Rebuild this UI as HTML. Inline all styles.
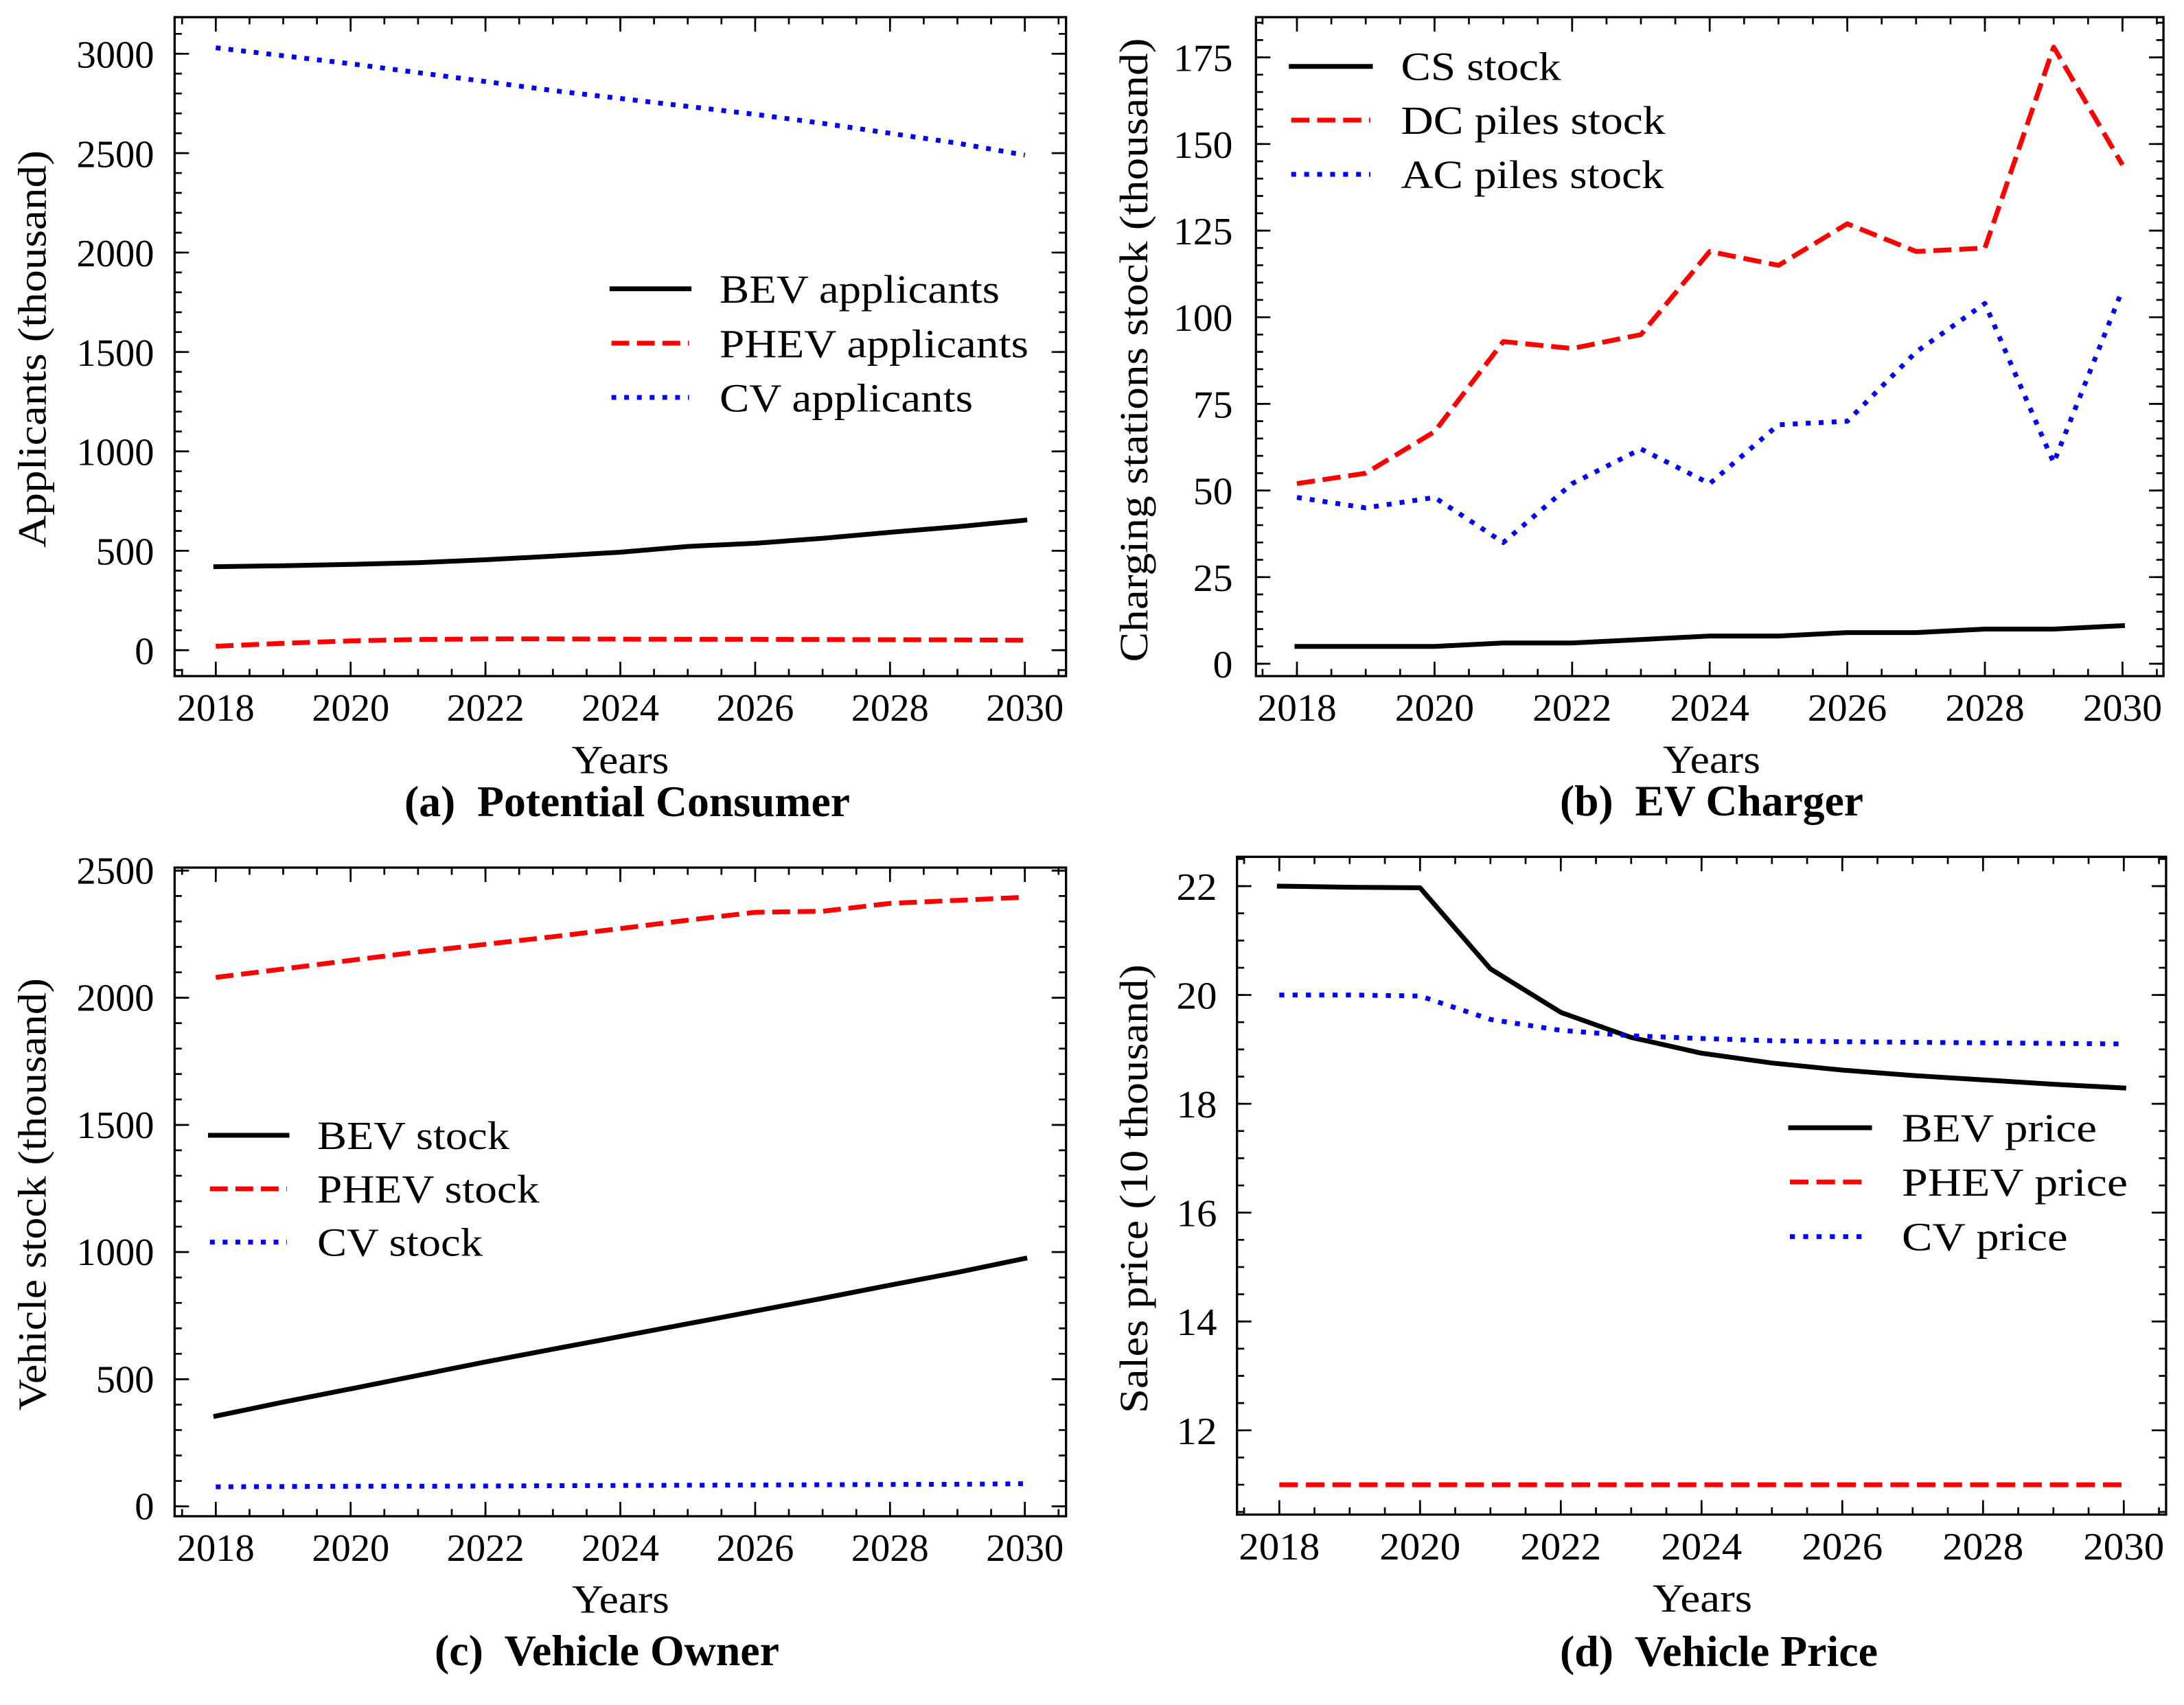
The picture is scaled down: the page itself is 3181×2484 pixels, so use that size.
<!DOCTYPE html>
<html>
<head>
<meta charset="utf-8">
<style>
html,body{margin:0;padding:0;background:#fff;}
svg{display:block;}
text{font-family:"Liberation Serif",serif;fill:#000;}
.t{font-size:56.5px;}
.l{font-size:58px;}
.cap{font-size:63px;font-weight:bold;white-space:pre;}
</style>
</head>
<body>
<svg width="3181" height="2484" viewBox="0 0 3181 2484" xmlns="http://www.w3.org/2000/svg">
<rect x="0" y="0" width="3181" height="2484" fill="#fff"/>

<!-- ================= PANEL A ================= -->
<g fill="none" stroke-linejoin="round">
  <polyline stroke="#000" stroke-width="7" stroke-linecap="square" points="314.3,825.6 412.5,824.2 510.7,822.2 608.9,819.8 707.1,815.5 805.3,810.3 903.5,804.5 1001.7,796.1 1099.9,791.5 1198.1,784.2 1296.3,775.5 1394.5,767.4 1492.7,757.9"/>
  <polyline stroke="#ff0000" stroke-width="7" stroke-dasharray="25.9 11.2" points="314.3,941.5 412.5,937.2 510.7,933.7 608.9,931.7 707.1,930.8 805.3,930.8 903.5,931.1 1001.7,931.4 1099.9,931.4 1198.1,931.7 1296.3,932.0 1394.5,932.2 1492.7,932.8"/>
  <polyline stroke="#0000ff" stroke-width="7" stroke-dasharray="7 11.55" points="314.3,69.6 412.5,81.2 510.7,92.8 608.9,105.8 707.1,118.8 805.3,131.9 903.5,143.5 1001.7,155.0 1099.9,166.6 1198.1,179.7 1296.3,194.2 1394.5,208.6 1492.7,226.0"/>
</g>
<g stroke="#000" fill="none">
  <rect x="254.3" y="25" width="1298.4" height="960" stroke-width="3.3"/>
  <line x1="263.85" y1="979.75" x2="1543.2" y2="979.75" stroke-width="10.5" stroke-dasharray="2.7 46.4"/>
  <line x1="263.85" y1="30.25" x2="1543.2" y2="30.25" stroke-width="10.5" stroke-dasharray="2.7 46.4"/>
  <line x1="312.95" y1="974.5" x2="1494.05" y2="974.5" stroke-width="21" stroke-dasharray="2.7 193.7"/>
  <line x1="312.95" y1="35.5" x2="1494.05" y2="35.5" stroke-width="21" stroke-dasharray="2.7 193.7"/>
  <line x1="259.55" y1="47.95" x2="259.55" y2="977.65" stroke-width="10.5" stroke-dasharray="2.7 26.267"/>
  <line x1="1547.45" y1="47.95" x2="1547.45" y2="977.65" stroke-width="10.5" stroke-dasharray="2.7 26.267"/>
  <line x1="264.8" y1="76.95" x2="264.8" y2="948.65" stroke-width="21" stroke-dasharray="2.7 142.13"/>
  <line x1="1542.2" y1="76.95" x2="1542.2" y2="948.65" stroke-width="21" stroke-dasharray="2.7 142.13"/>
</g>
<g class="t" text-anchor="end">
  <text x="224.5" y="967.3">0</text>
  <text x="224.5" y="822.5">500</text>
  <text x="224.5" y="677.7">1000</text>
  <text x="224.5" y="532.9">1500</text>
  <text x="224.5" y="388.1">2000</text>
  <text x="224.5" y="243.3">2500</text>
  <text x="224.5" y="98.3">3000</text>
</g>
<g class="t" text-anchor="middle">
  <text x="314.3" y="1050">2018</text>
  <text x="510.7" y="1050">2020</text>
  <text x="707.1" y="1050">2022</text>
  <text x="903.5" y="1050">2024</text>
  <text x="1099.9" y="1050">2026</text>
  <text x="1296.3" y="1050">2028</text>
  <text x="1492.7" y="1050">2030</text>
</g>
<text class="l" x="903.5" y="1126.5" text-anchor="middle" textLength="141.8" lengthAdjust="spacingAndGlyphs">Years</text>
<text class="l" transform="translate(66.7 508.5) rotate(-90)" text-anchor="middle" textLength="579" lengthAdjust="spacingAndGlyphs">Applicants (thousand)</text>
<text class="cap" x="589" y="1189" textLength="649" lengthAdjust="spacingAndGlyphs">(a)  Potential Consumer</text>
<!-- legend a -->
<g fill="none">
  <line x1="891.3" y1="420.7" x2="1003.6" y2="420.7" stroke="#000" stroke-width="7" stroke-linecap="square"/>
  <line x1="890.6" y1="500" x2="1003.6" y2="500" stroke="#ff0000" stroke-width="7" stroke-dasharray="25.9 11.2"/>
  <line x1="890.6" y1="579" x2="1003.6" y2="579" stroke="#0000ff" stroke-width="7" stroke-dasharray="7 11.55"/>
</g>
<g class="l">
  <text x="1048" y="441" textLength="408" lengthAdjust="spacingAndGlyphs">BEV applicants</text>
  <text x="1048" y="520.3" textLength="450" lengthAdjust="spacingAndGlyphs">PHEV applicants</text>
  <text x="1048" y="599.3" textLength="369" lengthAdjust="spacingAndGlyphs">CV applicants</text>
</g>

<!-- ================= PANEL B ================= -->
<g fill="none" stroke-linejoin="round">
  <polyline stroke="#000" stroke-width="7" stroke-linecap="square" points="1889,941.8 1989.2,941.8 2089.4,941.8 2189.6,936.7 2289.8,936.7 2390,931.7 2490.2,926.6 2590.4,926.6 2690.6,921.6 2790.8,921.6 2891,916.5 2991.2,916.5 3091.4,911.5"/>
  <polyline stroke="#ff0000" stroke-width="7" stroke-dasharray="26.4 11.4" points="1889,704.6 1989.2,689.4 2089.4,628.9 2189.6,497.6 2289.8,507.7 2390,487.5 2490.2,366.4 2590.4,386.6 2690.6,326.0 2790.8,366.4 2891,361.4 2991.2,68.6 3091.4,240.2"/>
  <polyline stroke="#0000ff" stroke-width="7" stroke-dasharray="7.1 11.8" points="1889,724.7 1989.2,739.9 2089.4,724.7 2189.6,790.4 2289.8,704.6 2390,654.1 2490.2,704.6 2590.4,618.8 2690.6,613.7 2790.8,512.8 2891,442.1 2991.2,674.3 3091.4,421.9"/>
</g>
<g stroke="#000" fill="none">
  <rect x="1829.3" y="25" width="1321.8" height="960" stroke-width="3.3"/>
  <line x1="1837.55" y1="979.75" x2="3142.75" y2="979.75" stroke-width="10.5" stroke-dasharray="2.7 47.4"/>
  <line x1="1837.55" y1="30.25" x2="3142.75" y2="30.25" stroke-width="10.5" stroke-dasharray="2.7 47.4"/>
  <line x1="1887.65" y1="974.5" x2="3092.75" y2="974.5" stroke-width="21" stroke-dasharray="2.7 197.7"/>
  <line x1="1887.65" y1="35.5" x2="3092.75" y2="35.5" stroke-width="21" stroke-dasharray="2.7 197.7"/>
  <line x1="1834.55" y1="31.75" x2="1834.55" y2="968.35" stroke-width="10.5" stroke-dasharray="2.7 22.54"/>
  <line x1="3145.85" y1="31.75" x2="3145.85" y2="968.35" stroke-width="10.5" stroke-dasharray="2.7 22.54"/>
  <line x1="1839.8" y1="82.25" x2="1839.8" y2="968.35" stroke-width="21" stroke-dasharray="2.7 123.5"/>
  <line x1="3140.6" y1="82.25" x2="3140.6" y2="968.35" stroke-width="21" stroke-dasharray="2.7 123.5"/>
</g>
<g class="t" text-anchor="end">
  <text x="1795.5" y="987" textLength="28.8" lengthAdjust="spacingAndGlyphs">0</text>
  <text x="1795.5" y="860.8" textLength="57.6" lengthAdjust="spacingAndGlyphs">25</text>
  <text x="1795.5" y="734.6" textLength="57.6" lengthAdjust="spacingAndGlyphs">50</text>
  <text x="1795.5" y="608.4" textLength="57.6" lengthAdjust="spacingAndGlyphs">75</text>
  <text x="1795.5" y="482.2" textLength="86.5" lengthAdjust="spacingAndGlyphs">100</text>
  <text x="1795.5" y="356" textLength="86.5" lengthAdjust="spacingAndGlyphs">125</text>
  <text x="1795.5" y="229.8" textLength="86.5" lengthAdjust="spacingAndGlyphs">150</text>
  <text x="1795.5" y="103.6" textLength="86.5" lengthAdjust="spacingAndGlyphs">175</text>
</g>
<g class="t" text-anchor="middle">
  <text x="1889" y="1050" textLength="115.3" lengthAdjust="spacingAndGlyphs">2018</text>
  <text x="2089.4" y="1050" textLength="115.3" lengthAdjust="spacingAndGlyphs">2020</text>
  <text x="2289.8" y="1050" textLength="115.3" lengthAdjust="spacingAndGlyphs">2022</text>
  <text x="2490.2" y="1050" textLength="115.3" lengthAdjust="spacingAndGlyphs">2024</text>
  <text x="2690.6" y="1050" textLength="115.3" lengthAdjust="spacingAndGlyphs">2026</text>
  <text x="2891" y="1050" textLength="115.3" lengthAdjust="spacingAndGlyphs">2028</text>
  <text x="3091.4" y="1050" textLength="115.3" lengthAdjust="spacingAndGlyphs">2030</text>
</g>
<text class="l" x="2493" y="1126" text-anchor="middle" textLength="142" lengthAdjust="spacingAndGlyphs">Years</text>
<text class="l" transform="translate(1671 510) rotate(-90)" text-anchor="middle" textLength="909" lengthAdjust="spacingAndGlyphs">Charging stations stock (thousand)</text>
<text class="cap" x="2272" y="1188" textLength="442" lengthAdjust="spacingAndGlyphs">(b)  EV Charger</text>
<!-- legend b -->
<g fill="none">
  <line x1="1880.7" y1="96.7" x2="1996" y2="96.7" stroke="#000" stroke-width="7" stroke-linecap="square"/>
  <line x1="1880.7" y1="175" x2="1996" y2="175" stroke="#ff0000" stroke-width="7" stroke-dasharray="26.4 11.4"/>
  <line x1="1880.7" y1="254" x2="1996" y2="254" stroke="#0000ff" stroke-width="7" stroke-dasharray="7.1 11.8"/>
</g>
<g class="l">
  <text x="2040.5" y="116.5" textLength="233" lengthAdjust="spacingAndGlyphs">CS stock</text>
  <text x="2040.5" y="195" textLength="385" lengthAdjust="spacingAndGlyphs">DC piles stock</text>
  <text x="2040.5" y="274" textLength="383" lengthAdjust="spacingAndGlyphs">AC piles stock</text>
</g>

<!-- ================= PANEL C ================= -->
<g fill="none" stroke-linejoin="round">
  <polyline stroke="#000" stroke-width="7" stroke-linecap="square" points="314.3,2063.1 412.5,2042.7 510.7,2023.4 608.9,2003.8 707.1,1984.2 805.3,1965.6 903.5,1947.1 1001.7,1928.6 1099.9,1910.1 1198.1,1891.5 1296.3,1872.3 1394.5,1853.7 1492.7,1833.4"/>
  <polyline stroke="#ff0000" stroke-width="7" stroke-dasharray="25.9 11.2" points="314.3,1424.0 412.5,1411.7 510.7,1399.1 608.9,1386.9 707.1,1375.8 805.3,1364.7 903.5,1352.8 1001.7,1340.6 1099.9,1329.1 1198.1,1327.6 1296.3,1316.1 1394.5,1311.7 1492.7,1307.2"/>
  <polyline stroke="#0000ff" stroke-width="7" stroke-dasharray="7 11.55" points="314.3,2166.1 412.5,2165.7 510.7,2165.3 608.9,2165.3 707.1,2165.0 805.3,2164.6 903.5,2164.2 1001.7,2163.8 1099.9,2163.5 1198.1,2163.1 1296.3,2162.7 1394.5,2162.4 1492.7,2161.6"/>
</g>
<g stroke="#000" fill="none">
  <rect x="254.3" y="1264" width="1298.4" height="945" stroke-width="3.3"/>
  <line x1="263.85" y1="2203.75" x2="1543.2" y2="2203.75" stroke-width="10.5" stroke-dasharray="2.7 46.4"/>
  <line x1="263.85" y1="1269.25" x2="1543.2" y2="1269.25" stroke-width="10.5" stroke-dasharray="2.7 46.4"/>
  <line x1="312.95" y1="2198.5" x2="1494.05" y2="2198.5" stroke-width="21" stroke-dasharray="2.7 193.7"/>
  <line x1="312.95" y1="1274.5" x2="1494.05" y2="1274.5" stroke-width="21" stroke-dasharray="2.7 193.7"/>
  <line x1="259.55" y1="1267" x2="259.55" y2="2195.95" stroke-width="10.5" stroke-dasharray="2.7 34.35"/>
  <line x1="1547.45" y1="1267" x2="1547.45" y2="2195.95" stroke-width="10.5" stroke-dasharray="2.7 34.35"/>
  <line x1="264.8" y1="1267" x2="264.8" y2="2195.95" stroke-width="21" stroke-dasharray="2.7 182.55"/>
  <line x1="1542.2" y1="1267" x2="1542.2" y2="2195.95" stroke-width="21" stroke-dasharray="2.7 182.55"/>
</g>
<g class="t" text-anchor="end">
  <text x="224.5" y="2213.6">0</text>
  <text x="224.5" y="2028.35">500</text>
  <text x="224.5" y="1843.1">1000</text>
  <text x="224.5" y="1657.85">1500</text>
  <text x="224.5" y="1472.6">2000</text>
  <text x="224.5" y="1287.35">2500</text>
</g>
<g class="t" text-anchor="middle">
  <text x="314.3" y="2274">2018</text>
  <text x="510.7" y="2274">2020</text>
  <text x="707.1" y="2274">2022</text>
  <text x="903.5" y="2274">2024</text>
  <text x="1099.9" y="2274">2026</text>
  <text x="1296.3" y="2274">2028</text>
  <text x="1492.7" y="2274">2030</text>
</g>
<text class="l" x="904" y="2349.5" text-anchor="middle" textLength="141.8" lengthAdjust="spacingAndGlyphs">Years</text>
<text class="l" transform="translate(66.7 1740) rotate(-90)" text-anchor="middle" textLength="630" lengthAdjust="spacingAndGlyphs">Vehicle stock (thousand)</text>
<text class="cap" x="633" y="2426" textLength="502" lengthAdjust="spacingAndGlyphs">(c)  Vehicle Owner</text>
<!-- legend c -->
<g fill="none">
  <line x1="306.5" y1="1654" x2="418" y2="1654" stroke="#000" stroke-width="7" stroke-linecap="square"/>
  <line x1="305.8" y1="1732" x2="418" y2="1732" stroke="#ff0000" stroke-width="7" stroke-dasharray="25.9 11.2"/>
  <line x1="305.8" y1="1809.6" x2="418" y2="1809.6" stroke="#0000ff" stroke-width="7" stroke-dasharray="7 11.55"/>
</g>
<g class="l">
  <text x="462" y="1674" textLength="280" lengthAdjust="spacingAndGlyphs">BEV stock</text>
  <text x="462" y="1752" textLength="323.5" lengthAdjust="spacingAndGlyphs">PHEV stock</text>
  <text x="462" y="1829.6" textLength="241" lengthAdjust="spacingAndGlyphs">CV stock</text>
</g>

<!-- ================= PANEL D ================= -->
<g fill="none" stroke-linejoin="round">
  <polyline stroke="#000" stroke-width="7" stroke-linecap="square" points="1863.3,1291 1965.8,1292.6 2068.3,1293.4 2170.8,1411.5 2273.3,1474.9 2375.8,1511.4 2478.3,1534.4 2580.8,1548.7 2683.3,1559.0 2785.8,1566.9 2888.3,1573.2 2990.8,1579.6 3093.3,1585.1"/>
  <polyline stroke="#ff0000" stroke-width="7" stroke-dasharray="27 11.7" points="1863.3,2163.1 3093.3,2163.1"/>
  <polyline stroke="#0000ff" stroke-width="7" stroke-dasharray="7.3 12.1" points="1863.3,1449.6 1965.8,1449.6 2068.3,1451.1 2170.8,1485.2 2273.3,1501.1 2375.8,1509.0 2478.3,1513.0 2580.8,1516.2 2683.3,1517.7 2785.8,1518.5 2888.3,1519.3 2990.8,1520.1 3093.3,1520.9"/>
</g>
<g stroke="#000" fill="none">
  <rect x="1801.7" y="1248.3" width="1353.2" height="958.3" stroke-width="3.3"/>
  <line x1="1810.7" y1="2201.35" x2="3145.9" y2="2201.35" stroke-width="10.5" stroke-dasharray="2.7 48.55"/>
  <line x1="1810.7" y1="1253.55" x2="3145.9" y2="1253.55" stroke-width="10.5" stroke-dasharray="2.7 48.55"/>
  <line x1="1861.95" y1="2196.1" x2="3094.65" y2="2196.1" stroke-width="21" stroke-dasharray="2.7 202.3"/>
  <line x1="1861.95" y1="1258.8" x2="3094.65" y2="1258.8" stroke-width="21" stroke-dasharray="2.7 202.3"/>
  <line x1="1806.95" y1="1250.01" x2="1806.95" y2="2204.07" stroke-width="10.5" stroke-dasharray="2.7 36.94"/>
  <line x1="3149.65" y1="1250.01" x2="3149.65" y2="2204.07" stroke-width="10.5" stroke-dasharray="2.7 36.94"/>
  <line x1="1812.2" y1="1289.65" x2="1812.2" y2="2085.15" stroke-width="21" stroke-dasharray="2.7 155.86"/>
  <line x1="3144.4" y1="1289.65" x2="3144.4" y2="2085.15" stroke-width="21" stroke-dasharray="2.7 155.86"/>
</g>
<g class="t" text-anchor="end">
  <text x="1772.5" y="1311" textLength="59" lengthAdjust="spacingAndGlyphs">22</text>
  <text x="1772.5" y="1469.6" textLength="59" lengthAdjust="spacingAndGlyphs">20</text>
  <text x="1772.5" y="1628.1" textLength="59" lengthAdjust="spacingAndGlyphs">18</text>
  <text x="1772.5" y="1786.7" textLength="59" lengthAdjust="spacingAndGlyphs">16</text>
  <text x="1772.5" y="1945.2" textLength="59" lengthAdjust="spacingAndGlyphs">14</text>
  <text x="1772.5" y="2103.8" textLength="59" lengthAdjust="spacingAndGlyphs">12</text>
</g>
<g class="t" text-anchor="middle">
  <text x="1863.3" y="2272" textLength="118" lengthAdjust="spacingAndGlyphs">2018</text>
  <text x="2068.3" y="2272" textLength="118" lengthAdjust="spacingAndGlyphs">2020</text>
  <text x="2273.3" y="2272" textLength="118" lengthAdjust="spacingAndGlyphs">2022</text>
  <text x="2478.3" y="2272" textLength="118" lengthAdjust="spacingAndGlyphs">2024</text>
  <text x="2683.3" y="2272" textLength="118" lengthAdjust="spacingAndGlyphs">2026</text>
  <text x="2888.3" y="2272" textLength="118" lengthAdjust="spacingAndGlyphs">2028</text>
  <text x="3093.3" y="2272" textLength="118" lengthAdjust="spacingAndGlyphs">2030</text>
</g>
<text class="l" x="2479.5" y="2348" text-anchor="middle" textLength="145" lengthAdjust="spacingAndGlyphs">Years</text>
<text class="l" transform="translate(1671 1732) rotate(-90)" text-anchor="middle" textLength="654" lengthAdjust="spacingAndGlyphs">Sales price (10 thousand)</text>
<text class="cap" x="2272" y="2427" textLength="463" lengthAdjust="spacingAndGlyphs">(d)  Vehicle Price</text>
<!-- legend d -->
<g fill="none">
  <line x1="2608" y1="1643" x2="2723" y2="1643" stroke="#000" stroke-width="7" stroke-linecap="square"/>
  <line x1="2607" y1="1722" x2="2723" y2="1722" stroke="#ff0000" stroke-width="7" stroke-dasharray="27 11.7"/>
  <line x1="2607" y1="1801.6" x2="2723" y2="1801.6" stroke="#0000ff" stroke-width="7" stroke-dasharray="7.3 12.1"/>
</g>
<g class="l">
  <text x="2770" y="1663" textLength="284" lengthAdjust="spacingAndGlyphs">BEV price</text>
  <text x="2770" y="1742" textLength="329" lengthAdjust="spacingAndGlyphs">PHEV price</text>
  <text x="2770" y="1821.6" textLength="241.6" lengthAdjust="spacingAndGlyphs">CV price</text>
</g>
</svg>
</body>
</html>
